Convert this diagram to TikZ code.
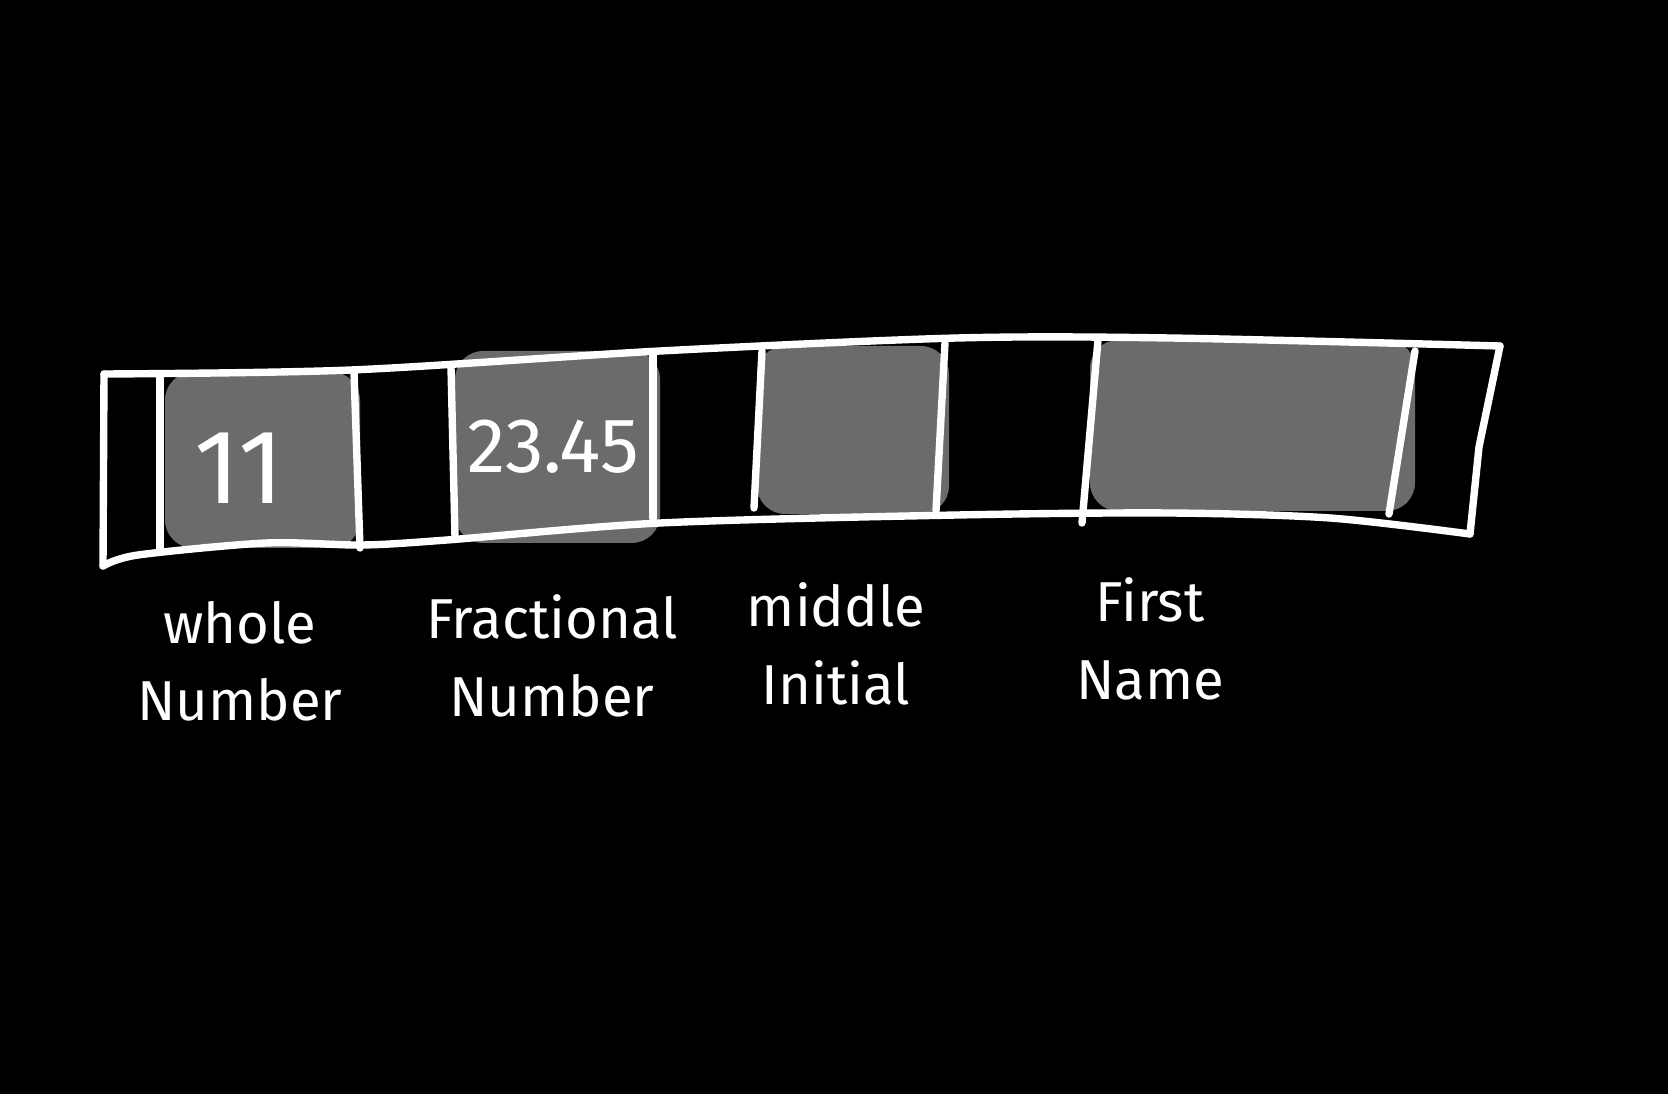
\documentclass[tikz,border=0pt]{standalone}
\usepackage{fontspec}
\setmainfont{Fira Sans}
\usetikzlibrary{positioning}
\definecolor{cellgray}{HTML}{6B6B6B}

\begin{document}
\begin{tikzpicture}[x=0.01cm, y=-0.01cm,
  pen/.style={draw=white, line width=2.1pt, line cap=round, line join=round},
  cell/.style={fill=cellgray, rounded corners=8pt},
  caption/.style={text=white, align=center, font=\fontsize{16}{22}\selectfont}]
\fill[black] (0,0) rectangle (1668,1094);
\useasboundingbox (0,0) rectangle (1668,1094);

% shaded cells
\fill[cell] (165,372) rectangle (360,548);
\fill[cell] (455,351) rectangle (660,543);
\fill[cell] (757,346) rectangle (949,514);
\fill[cell] (1090,340) rectangle (1415,511);

% the strip
\draw[pen] plot[smooth] coordinates {(104,374) (351,370) (660,351) (957,338) (1170,338) (1500,346)};
\draw[pen] (1500,346) -- (1479,447) -- (1470,534);
\draw[pen] plot[smooth] coordinates {(1470,534) (1330,518) (1170,513) (957,515) (660,523) (447,540) (362,545) (266,543) (138,555) (103,566)};
\draw[pen] (103,566) -- (104,374);

% dividers
\draw[pen] (160,378) -- (160,551);
\draw[pen] (354,372) -- (360,548);
\draw[pen] (451,367) -- (455,537);
\draw[pen] (653,354) -- (653,518);
\draw[pen] (762,351) -- (754,508);
\draw[pen] (945,343) -- (936,511);
\draw[pen] (1098,340) -- (1082,523);
\draw[pen] (1415,351) -- (1389,514);

% values
\node[text=white, font=\fontsize{30}{36}\selectfont] (whole) at (239,468) {11};
\node[text=white, font=\fontsize{22}{28}\selectfont] (frac) at (553,447) {23.45};

% captions
\node[caption] (wholecap) at (240,661) {whole\\Number};
\node[caption] (fraccap) at (552,656) {Fractional\\Number};
\node[caption] (initcap) at (836,644) {middle\\Initial};
\node[caption] (namecap) at (1150,639) {First\\Name};
\end{tikzpicture}
\end{document}
